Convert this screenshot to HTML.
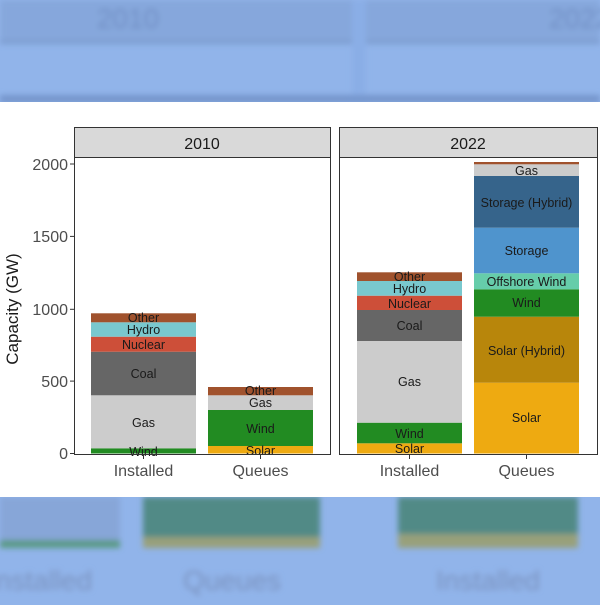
<!DOCTYPE html>
<html><head><style>
body{margin:0;width:600px;height:600px;overflow:hidden;background:#91b4ea;font-family:"Liberation Sans",sans-serif}
</style></head><body>
<svg width="600" height="600" xmlns="http://www.w3.org/2000/svg" font-family="Liberation Sans, sans-serif">
<defs><filter id="b"><feGaussianBlur stdDeviation="3"/></filter></defs>
<rect width="600" height="600" fill="#91b4ea"/>
<g filter="url(#b)">
<rect x="0" y="0" width="352" height="42" fill="#86a7dc"/>
<rect x="366" y="0" width="234" height="42" fill="#86a7dc"/>
<rect x="0" y="40" width="352" height="4" fill="#7c9ccf"/>
<rect x="366" y="40" width="234" height="4" fill="#7c9ccf"/>
<rect x="352" y="0" width="14" height="110" fill="#8aaee6"/>
<rect x="0" y="95" width="600" height="8" fill="#7595cc"/>
<text x="128" y="28" font-size="28" fill="#6f8fc4" text-anchor="middle">2010</text>
<text x="580" y="28" font-size="28" fill="#6f8fc4" text-anchor="middle">2022</text>
<rect x="0" y="497" width="120" height="48" fill="#87a6d8"/>
<rect x="0" y="540" width="120" height="8" fill="#5a9a84"/>
<rect x="143" y="497" width="177" height="40" fill="#518a86"/>
<rect x="143" y="537" width="177" height="11" fill="#98a07a"/>
<rect x="398" y="497" width="180" height="37" fill="#518a86"/>
<rect x="398" y="534" width="180" height="14" fill="#98a07a"/>
<text x="40" y="590" font-size="28" fill="#7a93c0" text-anchor="middle">Installed</text>
<text x="232" y="590" font-size="28" fill="#7a93c0" text-anchor="middle">Queues</text>
<text x="488" y="590" font-size="28" fill="#7a93c0" text-anchor="middle">Installed</text>
</g>
<rect x="0" y="102" width="600" height="395" fill="#fff"/>
<rect x="74.5" y="127.5" width="256" height="30" fill="#d9d9d9" stroke="#333"/>
<rect x="339.5" y="127.5" width="258" height="30" fill="#d9d9d9" stroke="#333"/>
<text x="202" y="149" font-size="16" fill="#1a1a1a" text-anchor="middle">2010</text>
<text x="468" y="149" font-size="16" fill="#1a1a1a" text-anchor="middle">2022</text>
<g font-size="12.5" fill="#1a1a1a" text-anchor="middle">
<rect x="91" y="448.3" width="105" height="5.2" fill="#228b22"/>
<rect x="91" y="395.3" width="105" height="53" fill="#cccccc"/>
<rect x="91" y="351.7" width="105" height="43.6" fill="#666666"/>
<rect x="91" y="336.7" width="105" height="15" fill="#cd4f39"/>
<rect x="91" y="322.3" width="105" height="14.4" fill="#79c8ce"/>
<rect x="91" y="313.3" width="105" height="9" fill="#a0522d"/>
<text x="143.5" y="456">Wind</text><text x="143.5" y="427">Gas</text><text x="143.5" y="378">Coal</text>
<text x="143.5" y="349">Nuclear</text><text x="143.5" y="334">Hydro</text><text x="143.5" y="322">Other</text>
<rect x="208" y="446" width="105" height="7.5" fill="#eeaa11"/>
<rect x="208" y="410" width="105" height="36" fill="#228b22"/>
<rect x="208" y="395.3" width="105" height="14.7" fill="#cccccc"/>
<rect x="208" y="387" width="105" height="8.3" fill="#a0522d"/>
<text x="260.5" y="455">Solar</text><text x="260.5" y="433">Wind</text><text x="260.5" y="407">Gas</text><text x="260.5" y="395">Other</text>
<rect x="357" y="443.3" width="105" height="10.2" fill="#eeaa11"/>
<rect x="357" y="422.7" width="105" height="20.6" fill="#228b22"/>
<rect x="357" y="341" width="105" height="81.7" fill="#cccccc"/>
<rect x="357" y="310" width="105" height="31" fill="#666666"/>
<rect x="357" y="295.7" width="105" height="14.3" fill="#cd4f39"/>
<rect x="357" y="281" width="105" height="14.7" fill="#79c8ce"/>
<rect x="357" y="272.3" width="105" height="8.7" fill="#a0522d"/>
<text x="409.5" y="453">Solar</text><text x="409.5" y="438">Wind</text><text x="409.5" y="386">Gas</text><text x="409.5" y="330">Coal</text>
<text x="409.5" y="308">Nuclear</text><text x="409.5" y="293">Hydro</text><text x="409.5" y="281">Other</text>
<rect x="474" y="382.7" width="105" height="70.8" fill="#eeaa11"/>
<rect x="474" y="316.7" width="105" height="66" fill="#b8860b"/>
<rect x="474" y="289.3" width="105" height="27.4" fill="#228b22"/>
<rect x="474" y="273.3" width="105" height="16" fill="#66cdaa"/>
<rect x="474" y="227.7" width="105" height="45.6" fill="#4f94cd"/>
<rect x="474" y="176" width="105" height="51.7" fill="#36648b"/>
<rect x="474" y="164.3" width="105" height="11.7" fill="#cccccc"/>
<rect x="474" y="162" width="105" height="2.3" fill="#a0522d"/>
<text x="526.5" y="422">Solar</text><text x="526.5" y="355">Solar (Hybrid)</text><text x="526.5" y="307">Wind</text>
<text x="526.5" y="286">Offshore Wind</text><text x="526.5" y="255">Storage</text><text x="526.5" y="207">Storage (Hybrid)</text><text x="526.5" y="175">Gas</text>
</g>
<rect x="74.5" y="157.5" width="256" height="297" fill="none" stroke="#333"/>
<rect x="339.5" y="157.5" width="258" height="297" fill="none" stroke="#333"/>
<g stroke="#333"><line x1="70" x2="74" y1="453.5" y2="453.5"/><line x1="70" x2="74" y1="381.1" y2="381.1"/><line x1="70" x2="74" y1="309.3" y2="309.3"/><line x1="70" x2="74" y1="236.4" y2="236.4"/><line x1="70" x2="74" y1="164" y2="164"/>
<line x1="143.5" x2="143.5" y1="455" y2="459"/><line x1="260.5" x2="260.5" y1="455" y2="459"/><line x1="409.5" x2="409.5" y1="455" y2="459"/><line x1="526.5" x2="526.5" y1="455" y2="459"/></g>
<g font-size="16" fill="#4d4d4d" text-anchor="end">
<text x="68" y="459">0</text><text x="68" y="387">500</text><text x="68" y="315">1000</text><text x="68" y="242">1500</text><text x="68" y="170">2000</text></g>
<g font-size="16" fill="#4d4d4d" text-anchor="middle">
<text x="143.5" y="476">Installed</text><text x="260.5" y="476">Queues</text><text x="409.5" y="476">Installed</text><text x="526.5" y="476">Queues</text></g>
<text transform="translate(18,309) rotate(-90)" font-size="17" fill="#1a1a1a" text-anchor="middle">Capacity (GW)</text>
</svg>
</body></html>
